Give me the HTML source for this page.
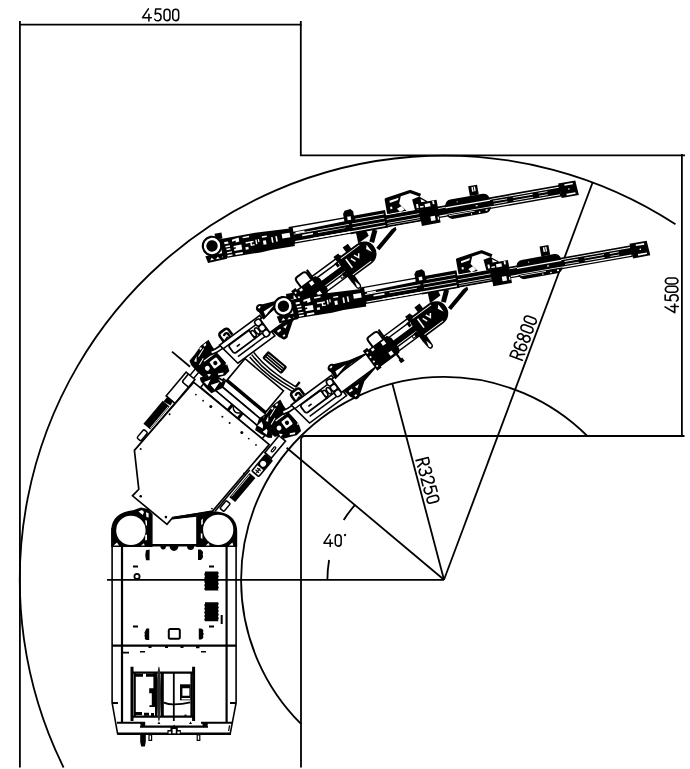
<!DOCTYPE html>
<html>
<head>
<meta charset="utf-8">
<title>Turning radius diagram</title>
<style>
html,body{margin:0;padding:0;background:#fff;}
body{width:690px;height:769px;overflow:hidden;font-family:"Liberation Sans",sans-serif;}
svg{display:block;}
.l{fill:none;stroke:#000;stroke-width:1.8;}
.t{fill:none;stroke:#000;stroke-width:1.75;stroke-linecap:round;stroke-linejoin:round;}
.w{fill:#fff;stroke:#000;stroke-width:1.4;}
.k{fill:#000;stroke:none;}
.n{fill:none;stroke:#000;stroke-width:1.2;}
</style>
</head>
<body>
<svg width="690" height="769" viewBox="0 0 690 769">
<defs>
<!-- single-stroke CAD glyphs, box 9 wide x 14 tall, baseline y=14 -->
<path id="g0" d="M0.8,4 a3.4,3.6 0 0 1 6.8,0 v6 a3.4,3.6 0 0 1 -6.8,0 z"/>
<path id="g4" d="M7,0 L0.3,10.2 H10.4 M7.6,6.2 V14"/>
<path id="g5" d="M7.6,0.2 H1.6 L1,6.2 C2.8,4.6 7.8,4.4 7.8,9.4 C7.8,14.6 2,14.8 0.5,12"/>
<path id="gR" d="M0.9,14 V0.2 H4.6 a3.4,3.5 0 0 1 0,7 H0.9 M4.6,7.2 L8,14"/>
<path id="g6" d="M7.2,1.6 C5.4,-0.6 0.8,-0.2 0.8,4.4 V10 a3.4,3.8 0 0 0 6.8,0 a3.4,3.6 0 0 0 -6.8,-0.6"/>
<path id="g8" d="M4.2,6.6 a3.1,3.2 0 1 1 0.01,0 M4.2,6.6 a3.5,3.7 0 1 0 0.01,0"/>
<path id="g3" d="M0.6,2.2 C2,-0.6 7.6,-0.6 7.4,3.4 C7.4,6 5,6.7 3.4,6.7 C5,6.7 7.8,7.4 7.8,10.4 C7.8,14.8 2,14.8 0.4,11.8"/>
<path id="g2" d="M0.6,3.2 C1,-1 7.8,-1 7.8,3.4 C7.8,6 5,8 0.5,13.8 H8.2"/>
<g id="feed">
<!-- beam proper -->
<rect x="80" y="-5.900" width="274" height="11.600" class="k"/>
<path d="M84,-4.300 H353 v0.900 H84 Z M84,3.200 H353 v1.200 H84 Z" fill="#fff"/>
<path d="M286,-1.900 h14 v0.800 h-14 z M306,-1.900 h20 v0.800 h-20 z M332,-1.900 h9 v0.800 h-9 z M286,1.100 h14 v0.800 h-14 z M306,1.100 h20 v0.800 h-20 z M332,1.100 h9 v0.800 h-9 z M92,-1.900 h11 v1.600 h-11 z M108,-1.500 h28 v0.700 h-28 z" fill="#fff"/>
<!-- hose/rod band on top of beam (drill block to clamp) -->
<path class="k" d="M80,-11.700 H141 V-5 H80 Z"/>
<path d="M84,-10.300 H140 V-7.900 L84,-6.300 Z" fill="#fff"/>
<!-- heavy section clamp to carriage -->
<path class="k" d="M140,-11.700 H178 V6.100 H140 Z"/>
<path d="M147,-8.400 H176 v0.800 H147 Z M143,-4.200 H176 v0.700 H143 Z M143,-0.400 H176 v0.700 H143 Z M100,3.200 H176 v1.100 H100 Z" fill="#fff"/>
<!-- reel -->
<g transform="translate(0,1.40)">
<path class="k" d="M-7,1 L-5.500,8.200 L14,7.400 L13,1 Z"/>
<path d="M-3,6 l2,-2.400 l2,2.400 z M3,5.800 l2,-2 l2,2 z M9,5.200 l1.500,-1.800 l1.500,1.800 z" fill="#fff"/>
<path class="k" d="M6,-19.500 h7 v6 h-7 z"/>
<circle cx="1.400" cy="-7.900" r="10.300" class="k"/>
<circle cx="1.400" cy="-7.900" r="8.200" fill="#fff"/>
<circle cx="1.400" cy="-7.900" r="5.700" class="k"/>
</g>
<!-- drill block -->
<g transform="translate(0,1.30)">
<path class="k" d="M10,-13 L46,-13.200 L83,-11.200 V6.800 L60,6.400 L48,7 L10,6.400 Z"/>
<path d="M14,-9.500 h4 v2.200 h-4 z M14.500,-5.500 h4.500 v1.600 h-4.500 z M15,-2.500 h4 v1.400 h-4 z M15,1 h5 v1.200 h-5 z M15,3.800 h5 v1.400 h-5 z M22,-10.500 l7,-1 v4 l-3.500,0.500 v-2 l-3.500,0.500 z M22.500,-4 h8 v5 h-8 v-2 h2 v-1.500 h-2 z M23,3.500 h7.500 v1.800 h-7.500 z M33,-11.400 h6.500 v1.500 h-6.500 z M35,-5.600 h8 v1.400 h-2 v2 h2.500 v1.200 h-4 v-3.200 h-4.500 z M45,-6.400 h1.400 v4.600 h-1.400 z M47.600,-6.400 h1.200 v3 h-1.200 z M34,-0.600 h3 v2.400 h-3 z M52,-8.600 h5 v1.500 h-5 z M52.400,-4 h3 v4 h-3 z M61,-6 h1.600 v5.600 h-1.600 z M65.400,-6.400 h1.600 v5.600 h-1.600 z M72,-7.400 h8 v4.600 h-8 z" fill="#fff"/>
<path d="M86,-7 h9 v1.600 h-9 z" fill="#fff" stroke="none"/>
</g>
<!-- hose clamp -->
<g transform="translate(0,0.90)">
<path class="k" d="M136,-8 V-16 L138,-19 L144,-19.600 L146.400,-17 V-8 Z"/>
<path d="M139.500,-12.500 h3.500 v3.500 h-3.500 z" fill="#fff"/>
</g>
<!-- carriage: arch -->
<g transform="translate(0,0.65)">
<path class="k" d="M176,-7 H214 V4.600 H176 Z"/>
<path d="M178,-3.200 H211 v0.700 H178 Z M178,0.800 H211 v0.700 H178 Z M178,2.800 H211 v0.600 H178 Z" fill="#fff"/>
<path class="n" style="stroke-width:3.200;stroke-linejoin:round" d="M181,-8 V-22.600 L206,-26.200 L215.500,-20.600"/>
<path class="k" d="M181,-22 L196,-23.500 L193,-16 L199,-8 H181 Z"/>
<path d="M184,-20.600 l9.500,-1.400 l-1,2 l-8.500,1.600 z M183.500,-14.500 h2 v2.400 h-2 z M190,-11.500 l5,-2 l2.400,4 l-5,1.600 z" fill="#fff"/>
<path class="k" d="M206.500,-18 L214,-19.600 L221,-14 V-7 H207.500 Z"/>
<path d="M209.500,-12.500 h4 v4 h-4 z M215,-17 l4.500,3.400 h-4.500 z" fill="#fff"/>
</g>
<!-- carriage block -->
<g transform="translate(0,0.60)">
<path class="k" d="M211.500,-13.400 H230.500 V9.800 H211.500 Z"/>
<path d="M218,-11.400 h5.500 v3.400 h-5.500 z M226,-13 h1.800 v3.400 h-1.800 z M221.500,2 h4.600 v4.600 h-4.600 z M228.500,3.500 h1.200 v3 h-1.200 z M213,-9.800 h3.500 v1.400 h-3.500 z" fill="#fff"/>
</g>
<!-- centralizer -->
<g transform="translate(0,0.40)">
<path class="k" d="M244,-11 H277 a6,6 0 0 1 6,6 V2.500 a6,6 0 0 1 -6,6 H244 a6,6 0 0 1 -6,-6 V-5 a6,6 0 0 1 6,-6 Z"/>
<path d="M238,-4.200 h45 v1.300 h-45 z M238,2.600 h45 v0.800 h-45 z M240,4.200 h26 v0.800 h-26 z" fill="#fff"/>
<path d="M250,-8 h1 v1 h-1 z M262,6 h1 v1.500 h-1 z M270,5.800 h1.500 v1.500 h-1.500 z M277,4.800 h2 v1.600 h-2 z M268,-1 h2 v1.200 h-2 z" fill="#fff"/>
<path class="k" d="M264,-11 V-21 H273 V-11 Z"/>
<path d="M267,-19.500 h3.600 v4.600 h-3.600 z" fill="#fff"/>
<path class="k" d="M268.500,-19.500 h0.800 v4.600 h-0.800 z"/>
</g>
<!-- end cap -->
<path class="k" d="M353,-7.600 H370.500 L371.500,7.400 H354 Z"/>
<path d="M359,-5.800 h8.500 v1.600 h-8.500 z M359.500,4 h9 v1.600 h-9 z M362,-1 h1.400 v1.400 h-1.400 z" fill="#fff"/>
</g>
<g id="boom">
<!-- pivot mass -->
<path class="k" d="M-11.600,-19.100 L-1.500,-22.500 L8.400,-22.700 L7.500,-15.700 L7.400,-8.300 L9.100,7 L6.500,14.900 L0.400,15.800 L-6.200,13 L-12.100,10.800 L-13.500,5.400 L-18.100,4.200 L-20,-4.800 L-20.600,-12.800 L-19.400,-17.300 Z"/>
<path d="M-16,-14 l5,-2.500 l-3.500,4.500 z M-13,4 l3,2.500 l-3.500,1 z M-4,10 l5,2.500 l-1.500,1.500 l-4.500,-2.500 z M1,-21.500 l3,-0.300 l-0.500,2 l-2.500,0.300 z M-4.500,-21 l2.500,-0.500 l0,1.800 l-2.500,0.600 z M-14,-8.500 l7,-3 l0.400,0.900 l-7,3 z M-10,-15.500 l9,-3.500 l0.400,0.800 l-9,3.600 z" fill="#fff"/>
<circle cx="-9.500" cy="-0.500" r="2.400" fill="#fff"/>
<rect x="-6.800" y="-6.800" width="13.600" height="13.600" rx="2.500" class="k"/>
<rect x="-4.300" y="-4.300" width="8.600" height="8.600" rx="1.200" fill="#fff"/>
<circle cx="0" cy="0" r="2.100" class="k"/>
<path class="n" style="stroke-width:1.200;stroke:#fff" d="M-8,-8.200 H7.400 L9.400,-6.200 V6.200 L7.400,8.200"/>
<!-- lifting loop on base -->
<path class="n" style="stroke-width:2.600" d="M19.500,-12.500 V-18.500 a3,3 0 0 1 3,-3 H27.500 a3,3 0 0 1 3,3 V-12.500"/>
<path class="n" style="stroke-width:2.400" d="M23,-16.500 q2.500,-2.500 4.500,0 V-10"/>
<!-- hose banana -->
<path class="w" style="stroke-width:1.600" d="M3,-12.500 Q14,-9 25,-13.500 L26.500,-10 Q14,-5 2,-9 Z"/>
<!-- base strip (outer edges) -->
<path class="w" style="stroke-width:1.600" d="M14,-11.800 H64 V13.600 H18 Z"/>
<path class="n" style="stroke-width:1.500" d="M15,-6.700 H56 M22,8.300 H62 M46.500,3.900 H62"/>
<!-- base box -->
<path class="w" style="stroke-width:1.800" d="M23,-6.200 H46.500 V3.900 H23 a2.300,2.300 0 0 1 -2.300,-2.300 V-3.900 a2.300,2.300 0 0 1 2.300,-2.300 Z"/>
<path class="n" style="stroke-width:1.600" d="M27,-0.500 h4"/>
<ellipse cx="48.200" cy="-0.800" rx="1.900" ry="3.600" class="w" style="stroke-width:1.600"/>
<ellipse cx="52.800" cy="-0.800" rx="1.900" ry="3.600" class="w" style="stroke-width:1.600"/>
<!-- second beam portion -->
<path class="w" style="stroke-width:1.600" d="M62,-8.500 H106 V8 H62 Z"/>
<!-- knob chain -->
<rect x="55.400" y="-10.200" width="6.200" height="6.400" rx="2.400" class="w" style="stroke-width:1.600"/>
<rect x="55.400" y="-3.500" width="6.200" height="6.400" rx="2.400" class="w" style="stroke-width:1.600"/>
<rect x="55.400" y="3.200" width="6.200" height="6.400" rx="2.400" class="w" style="stroke-width:1.600"/>
<!-- upper triangle bracket -->
<path class="k" d="M64.600,-6 L65.400,-16 L72,-19.500 L87,-13.400 L103,-9.600 V-8.200 L86,-9.400 Z"/>
<path d="M69.500,-12.600 L82,-11.800 L68.600,-8.400 Z" fill="#fff"/>
<circle cx="68.600" cy="-17.400" r="4.200" class="k"/>
<path d="M67,-19 l2.500,-0.800 l0.600,1.600 l-2.500,0.800 z" fill="#fff"/>
<!-- lower triangle bracket -->
<path class="k" d="M64.500,8.200 L86,8.600 L103,7.400 V9 L87,12.600 L75,21 L69,21.500 L66.500,17 Z"/>
<path d="M68.500,11 h4 v2 h-4 z M76,11.400 l5,0.200 l-4,2.600 z M70.500,16.500 h2.400 v2.400 h-2.400 z" fill="#fff"/>
<circle cx="71.600" cy="19" r="3.600" class="k"/>
<path d="M70.400,18 h2.200 v1.800 h-2.200 z" fill="#fff"/>
<!-- upper section tubes -->
<path class="w" style="stroke-width:1.500" d="M128,-12 H164 V-8 H128 Z M130,4.600 H161 V8.800 H130 Z"/>
<path class="k" d="M116,-2.800 H168 V3 H116 Z"/>
<!-- clamp -->
<path class="n" style="stroke-width:2" d="M114,-10 V-17.500 a3,3 0 0 1 3,-3 H124 a3,3 0 0 1 3,3 V-10"/>
<path class="k" d="M103.600,-12.600 H109 V-10.500 H132 L134.500,-6 V7 L132,10.500 H109 V11.800 H103.600 Z"/>
<path d="M105.400,-9.500 h1.800 v1.800 h-1.800 z M105.400,-4 h1.800 v1.800 h-1.800 z M105.400,1.500 h1.800 v1.800 h-1.800 z M105.400,7 h1.800 v1.800 h-1.800 z M123,-8.800 h4 v4 h-4 z M123,4 h4 v4 h-4 z M111,-9 h3 v2.500 h-3 z" fill="#fff"/>
<path class="n" style="stroke-width:2.200" d="M129,-20.500 V18"/>
<path class="k" d="M127,16 h4.500 v4 h-4.500 z"/>
<!-- small clamps on top tube -->
<path class="k" d="M158,-15 h6 v7 h-6 z M171,-17 h6.500 v7 h-6.500 z"/>
<!-- hook / pendant -->
<path class="k" d="M157.500,7 H164 V15 L163.600,24 a2.800,3 0 0 1 -5.400,0 L157.500,15 Z"/>
<path d="M160.800,17 L162.400,23 a1.600,1.600 0 0 1 -3.200,0 Z" fill="#fff"/>
<!-- head -->
<path class="k" d="M162,-11.500 H185 a12,12.250 0 0 1 0,24.500 H162 L158.500,8 V-6 Z"/>
<path d="M163,-9.600 H186 v0.900 H163 Z M163,10.400 H186 v0.900 H163 Z M166,-6 h1.600 v11 h-1.600 z M170.500,-3 l1.400,-0.600 l2,5 l-1.400,0.600 z M175,-4 l1.400,-0.400 l1.600,3.600 l2,-2.600 l1.200,0.800 l-3.400,4.600 z M189,-2 l3,-3 v9 z" fill="#fff"/>
<path class="k" d="M158,-9 h-3 v5 h3 z M155,3.500 h3.500 v5 h-3.500 z"/>
<path d="M152,4.800 h3 v2.600 h-3 z" fill="#fff" stroke="#000" stroke-width="1"/>
<!-- neck to feed -->
<path class="k" d="M186,-11 L191,-22 H201 L199,-11 Z"/>
<path class="k" d="M196,-6 L206,-14 L209,-10 L199,-2 Z"/>
<!-- tilt cylinder to feed -->
<path class="k" d="M198,3 L221,-2.600 L226,-2.400 L225,0.600 L199,7 Z"/>
</g>
</defs>

<!-- ===== corridor walls / dimension frame ===== -->
<g class="l">
<path d="M19.9,767.5 V21"/>
<path d="M19,24.6 H301.6"/>
<path d="M300.8,21 V155.4 H685"/>
<path d="M681.9,154 V436"/>
<path d="M684.5,436 H304.5 a3.5,3.5 0 0 0 -3.5,3.5 V767.5"/>
</g>

<!-- ===== arcs ===== -->
<g class="l">
<!-- outer R6800 -->
<path d="M63.6,767.5 A424.2,424.2 0 0 1 675.5,224.3"/>
<!-- inner R3250 -->
<path d="M587.3,436 A203,203 0 1 0 301,723.9"/>
<!-- radial lines -->
<path d="M444,579.8 L592.6,182.5"/>
<path d="M444,579.8 L392.3,383.5"/>
<path d="M444,579.8 L286.6,447.7"/>
<path d="M190,366.7 L172,351.6"/>
<path d="M444,579.8 H107"/>
<!-- angle arc -->
<path d="M327.4,579.8 A116.6,116.6 0 0 1 329.1,560"/>
<path d="M343.7,520 A116.6,116.6 0 0 1 355.3,504.6"/>
</g>

<!-- ===== text ===== -->
<g class="t">
<g transform="translate(142.3,8.8) scale(0.87)"><use href="#g4"/><use href="#g5" x="13.8"/><use href="#g0" x="24.2"/><use href="#g0" x="34.2"/></g>
<g transform="translate(665,313) rotate(-90) scale(0.86,0.95)"><use href="#g4"/><use href="#g5" x="13.4"/><use href="#g0" x="23.4"/><use href="#g0" x="33"/></g>
<g transform="translate(323.6,534.3) scale(0.87)"><use href="#g4"/><use href="#g0" x="12.6"/><circle cx="24.6" cy="0.8" r="0.5"/></g>
<g transform="translate(509.6,356.4) rotate(-69.5) scale(0.91,0.95)"><use href="#gR"/><use href="#g6" x="10.2"/><use href="#g8" x="20.4"/><use href="#g0" x="30.8"/><use href="#g0" x="41"/></g>
<g transform="translate(428.1,456.6) rotate(75.2) scale(0.92,0.9)"><use href="#gR"/><use href="#g3" x="10.6"/><use href="#g2" x="21"/><use href="#g5" x="31.4"/><use href="#g0" x="42"/></g>
</g>

<!-- ===== MACHINE ===== -->
<g id="machine">
<g id="rear">
<!-- body fill to hide the centre line behind solid parts is not needed (line is visible through) -->
<!-- outer shell -->
<path class="n" style="stroke-width:1.6" d="M112.1,528 V702.8 L117.6,733.8 H230.2 L236.1,702.8 V528"/>
<path class="n" style="stroke-width:2.2" d="M122,546 V723"/>
<path class="n" style="stroke-width:2.2" d="M226.6,546 V723"/>
<path class="n" style="stroke-width:1.8" d="M112,703 H118 M230,703 H236"/>
<!-- left wheel housing -->
<path class="k" d="M111.2,547 V531 C111.2,518 120,511.5 133,510.2 L141,507.5 L148,509 L152.6,514 V547 Z"/>
<circle cx="130.9" cy="530.4" r="14.7" fill="#fff"/>
<path d="M138.5,511.5 l3.5,-1.6 l2,2.2 l-1.2,3 z M146,512.2 l2.6,1 v4.4 l-2.2,-0.6 z M145.2,520 l1.8,0.8 v5 l-1.2,-0.5 z M145.2,535 l1.8,-0.6 v5.6 l-1.8,0.6 z M113.5,545.5 l3.5,-3 l2,3 z M141,545.6 l3,-2.4 l0.6,2.4 z" fill="#fff"/>
<!-- right wheel housing -->
<path class="k" d="M196.2,547 V516 L205,512.8 L214,511.2 C230,512 237.2,520 237.2,532 V547 Z"/>
<circle cx="218.2" cy="529.8" r="15.1" fill="#fff"/>
<path d="M201.2,520 l1.6,-1.4 v5.4 l-1.6,1 z M200.8,533 l1.6,1 v5 l-1.6,-1 z M205.8,545.5 l2.6,-2.6 l1.4,2.6 z M229,545.6 l3.4,-3 l1,3 z" fill="#fff"/>
<!-- centre block between wheels -->
<path class="n" style="stroke-width:2.6" d="M152,545.2 H197"/>
<path class="n" style="stroke-width:2.4" d="M172.4,518 L196.5,515.6"/>
<path class="k" d="M160.4,546 a2.8,3.4 0 0 0 5.6,0 z M169.6,546 a4.4,5 0 0 0 8.8,0 z M187,546 a3.6,4 0 0 0 7.2,0 z"/>
<!-- deck marks -->
<path class="k" d="M146,550.2 q-1.6,4.8 0,10 h3.6 v-10.6 z M198,549.6 h2.6 q3.6,2.2 2,5 q1.6,2.6 -1.6,5.4 h-3 z"/>
<path class="k" d="M146.4,628.6 h2.8 v11.4 h-2.8 q-2.4,-1 -1.4,-3 q-1.400,-1.400 0,-2.8 q-1.400,-1.400 0,-2.800 z M198.800,628.600 h2.400 q3,1.400 1.800,3.600 q1.600,1.800 0,3.600 q1.200,2.400 -1.800,3.800 h-2.400 z"/>
<path class="n" style="stroke-width:2" d="M133,566.4 h5 M209,566.4 h5 M133,626.600 h5 M209,626.600 h5 M221.700,615 v9"/>
<circle cx="137" cy="576.4" r="2.600" class="n" style="stroke-width:1.800"/>
<rect x="168.800" y="629" width="11" height="9.800" rx="1.500" class="n" style="stroke-width:2"/>
<!-- louvre blocks -->
<path class="k" d="M205,571.400 h13 l0.800,1.600 l-0.800,1.800 l0.800,1.800 l-0.800,1.800 l0.800,1.800 l-0.800,1.800 l0.800,1.800 l-0.800,1.800 l0.800,1.800 l-0.800,1.800 l0.600,1.200 h-13.600 l-0.800,-1.600 l0.800,-1.800 l-0.800,-1.800 l0.800,-1.800 l-0.800,-1.800 l0.800,-1.800 l-0.800,-1.800 l0.800,-1.800 l-0.800,-1.800 l0.800,-1.800 z"/>
<path class="k" d="M205,602.200 h13 l0.800,1.600 l-0.800,1.800 l0.800,1.800 l-0.800,1.800 l0.800,1.800 l-0.800,1.800 l0.800,1.800 l-0.800,1.800 l0.800,1.800 l-0.800,1.800 l0.600,1.200 h-13.600 l-0.800,-1.600 l0.800,-1.800 l-0.800,-1.800 l0.800,-1.800 l-0.800,-1.800 l0.800,-1.800 l-0.800,-1.800 l0.800,-1.800 l-0.800,-1.800 l0.800,-1.800 z"/>
<!-- rear deck divider -->
<path class="n" style="stroke-width:2.400" d="M112,645.600 H236"/>
<path class="k" d="M148.500,646 h3 v2 h-3 z M165,646 h3 v2 h-3 z M180.500,646 h3 v2 h-3 z M196,646 h3.500 v2.200 h-3.500 z"/>
<path class="n" style="stroke-width:1.600" d="M122,652.600 h7 M140,651.800 h5 M201,651.800 h5"/>
<!-- cabin -->
<path class="n" style="stroke-width:3" d="M132,666.800 V721 M193.600,666.800 V721"/>
<path class="n" style="stroke-width:2.200" d="M133,672.600 H193 M133,716.600 H193"/>
<path class="n" style="stroke-width:2" d="M134.800,672 V717"/>
<path class="n" style="stroke-width:3" d="M135,675.200 h8 m3,0 h8 M135,713.600 h7 m2,0.600 h5 m2,0.400 h3"/>
<path class="k" d="M153.400,672 h3.800 v45 h-2.200 v-10 h-5.600 v-1.800 h2.400 v-12 h-2.600 v-5 h4.200 z"/>
<ellipse cx="158.900" cy="694" rx="2.100" ry="27.400" fill="#2a2a2a"/>
<rect x="160.800" y="672" width="3" height="45" class="k"/>
<path class="n" style="stroke-width:1.800" d="M173.800,672 V721"/>
<path class="k" d="M180,684.300 h10.600 v16 h-10.600 z"/>
<path d="M182.400,688.200 h7 v7.600 h-7 z M181.600,698 h8.600 v1.400 h-8.600 z" fill="#fff"/>
<rect x="190.400" y="672" width="1.800" height="45" class="k"/>
<path class="n" style="stroke-width:1.800" d="M163.800,702.600 Q169,704.600 173.800,704.400 Q182,704.400 190.400,702.400"/>
<path class="k" d="M184.500,714.600 h2 v2 h-2 z"/>
<!-- bumper -->
<path class="n" style="stroke-width:2" d="M117,722.800 H145 M201,722.800 H232"/>
<path class="n" style="stroke-width:2.400" d="M140,726.600 H208"/>
<path class="k" d="M139.600,723 l5.600,-1 v3.600 l-3,2 z M202,722 l6.600,0.600 l-2,4.400 l-3.600,0.200 z M157.400,724 l1.600,-2.400 l1.400,2.400 z M189,724 l1.600,-2.400 l1.400,2.400 z"/>
<path class="n" style="stroke-width:2.400" d="M117.400,733.800 H231"/>
<path class="n" style="stroke-width:1.200" d="M229.600,725.400 L228.600,731"/>
<path class="k" d="M167.400,734 v-4 h3 v-3 h2.200 l1.500,-2.600 l1.500,2.600 h2.200 v3 h3 v4 z"/>
<path d="M168.600,731.400 h2.400 v2 h-2.400 z M177.400,731.400 h2.400 v2 h-2.400 z M172.600,729 h3.200 v4.200 h-3.200 z" fill="#fff"/>
<path class="k" d="M140.200,734 h5.600 v8 l-1,4.400 h-3.600 l-1,-4.400 z"/>
<path class="w" style="stroke-width:1.200" d="M149,735 h2.600 v5.400 h-2.600 z M197.200,735 h2.600 v5.400 h-2.600 z"/>
</g>
<g id="front">
<!-- parts aligned to the front body frame (rotated 40deg about articulation pivot) -->
<g transform="rotate(40,174.100,481.500)">
<!-- cross beams ahead of hood -->
<path class="w" style="stroke-width:1.600" d="M146,371 H203 V378 H146 Z"/>
<path class="w" style="stroke-width:1.600" d="M140,378 H209 V385.200 H140 Z"/>
<path class="w" style="stroke-width:1.600" d="M134,385.200 H214 V392.400 H134 Z"/>
<path class="k" d="M168,385.200 h3 v7 h-3 z M181,385.200 h3 v7 h-3 z"/>
<!-- cross beam end brackets -->
<path class="k" d="M127,385.500 L132,377.500 L141.700,372.500 L149.500,371.600 L151.400,378.300 L146,390 L138.400,389.400 L130,387.600 Z"/>
<path d="M133,386 l3.500,-6 l1.500,6.500 z M140,384 l5,-8 l1,9 z M142,374.500 l5,-1 l-0.500,2 z" fill="#fff"/>
<path class="k" d="M221,385.500 L217,377.500 L209,372.500 L200.500,371.600 L198.500,378.300 L203,390 L210,389.400 L218,387.600 Z"/>
<path d="M215,386 l-3.500,-6 l-1.500,6.500 z M208,384 l-5,-8 l-1,9 z M206,374.500 l-5,-1 l0.500,2 z" fill="#fff"/>
<!-- narrow front-left post -->
<path class="w" style="stroke-width:1.500" d="M118,379.500 H122.800 V402 H118 Z"/>
<path class="n" style="stroke-width:1.400" d="M171,386 q5,6 10,0"/>
<!-- big white rectangle (cable reel cover) -->
<rect x="149.500" y="341.800" width="50.200" height="28.800" class="w" style="stroke-width:1.600"/>
<path class="n" style="stroke-width:2.600" d="M149.500,369.600 H199.700"/>
<path class="n" style="stroke-width:1.500" d="M152,331.400 Q174,336.600 207,330.600 M152,334.400 Q174,339.600 207,333.600 M152,337.400 Q174,341.800 207,336.600"/>
<!-- seat grille -->
<rect x="162" y="320.800" width="25.400" height="9.700" rx="2" class="k"/>
<path d="M164.500,323 h20.500 v0.800 h-20.500 z M164.500,325.400 h20.500 v0.800 h-20.500 z M164.500,327.800 h20.500 v0.800 h-20.500 z" fill="#fff"/>
<rect x="205.200" y="324.600" width="2.400" height="6" class="k"/>
<!-- left side: front box, tread, small plate -->
<path class="w" style="stroke-width:1.600" d="M113,390 H124.500 V421 H113 Z"/>
<path class="n" style="stroke-width:1.600" d="M116,390 V398 a2,2 0 0 0 2,2 H124.500"/>
<rect x="113.500" y="427" width="9" height="30" class="k"/>
<path d="M121.200,428 h0.700 v28 h-0.700 z" fill="#fff"/>
<rect x="117.400" y="461" width="5.200" height="11" rx="1.500" class="w" style="stroke-width:1.500"/>
<path class="n" style="stroke-width:1.600" d="M124.300,421 V482"/>
<path class="k" d="M114.500,421 l7,-0.500 l1,5 l-8,1.500 z"/>
<!-- right side: box, light, tread, small plate -->
<path class="w" style="stroke-width:1.600" d="M225,379 H233.500 V401 H225 Z"/>
<rect x="228.600" y="390" width="2" height="6" rx="1" class="w" style="stroke-width:1.200"/>
<rect x="226" y="401.600" width="10.600" height="22.600" rx="2" class="k"/>
<circle cx="230.900" cy="410.600" r="2.900" fill="#fff"/>
<path d="M227.600,415.500 h7.400 v7 h-7.400 z" fill="#fff"/>
<path class="k" d="M229,417 h4.600 v1.300 h-4.600 z M229,419.600 h4.600 v1.300 h-4.600 z M231,416 h1 v6 h-1 z"/>
<rect x="226.500" y="426.500" width="7.600" height="31.500" class="k"/>
<path d="M227.300,428 h0.700 v28 h-0.700 z" fill="#fff"/>
<rect x="226.300" y="462.500" width="5.200" height="10" rx="1" class="w" style="stroke-width:1.500"/>
<path class="n" style="stroke-width:1.600" d="M224.600,424 V478"/>
</g>
<!-- hood -->
<path class="w" style="stroke-width:1.700" d="M193.800,382.300 L269.200,444.500 L212.500,511.200 L172.300,518 L167,524.300 L132.500,495.800 L138.800,489.300 L134.400,450.400 Z"/>
<path class="n" style="stroke-width:2.800" d="M172.300,518.200 L212.800,512.200"/>
<g class="k">
<circle cx="195.900" cy="394.600" r="0.900"/><circle cx="203.100" cy="400.700" r="0.900"/><circle cx="210.800" cy="406.500" r="1.500"/><circle cx="222.400" cy="416.700" r="1"/><circle cx="229.600" cy="422.900" r="1"/><circle cx="241.800" cy="432.600" r="1.500"/><circle cx="248.800" cy="438.600" r="0.900"/><circle cx="256" cy="444.900" r="0.900"/>
<circle cx="169.600" cy="414.300" r="1"/><circle cx="140.700" cy="449" r="1"/><circle cx="140.700" cy="496.200" r="1.300"/><circle cx="165.900" cy="517.100" r="1.300"/><circle cx="212" cy="508.600" r="0.900"/><circle cx="244" cy="473.500" r="1"/>
</g>
</g>
<use href="#boom" transform="translate(215.300,363) rotate(-36.500)"/>
<use href="#feed" transform="translate(211.800,252.600) rotate(-10.050)"/>
<use href="#boom" transform="translate(287,422.800) rotate(-36.500)"/>
<use href="#feed" transform="translate(283.200,312.900) rotate(-10.050)"/>
</g>
</svg>
</body>
</html>
